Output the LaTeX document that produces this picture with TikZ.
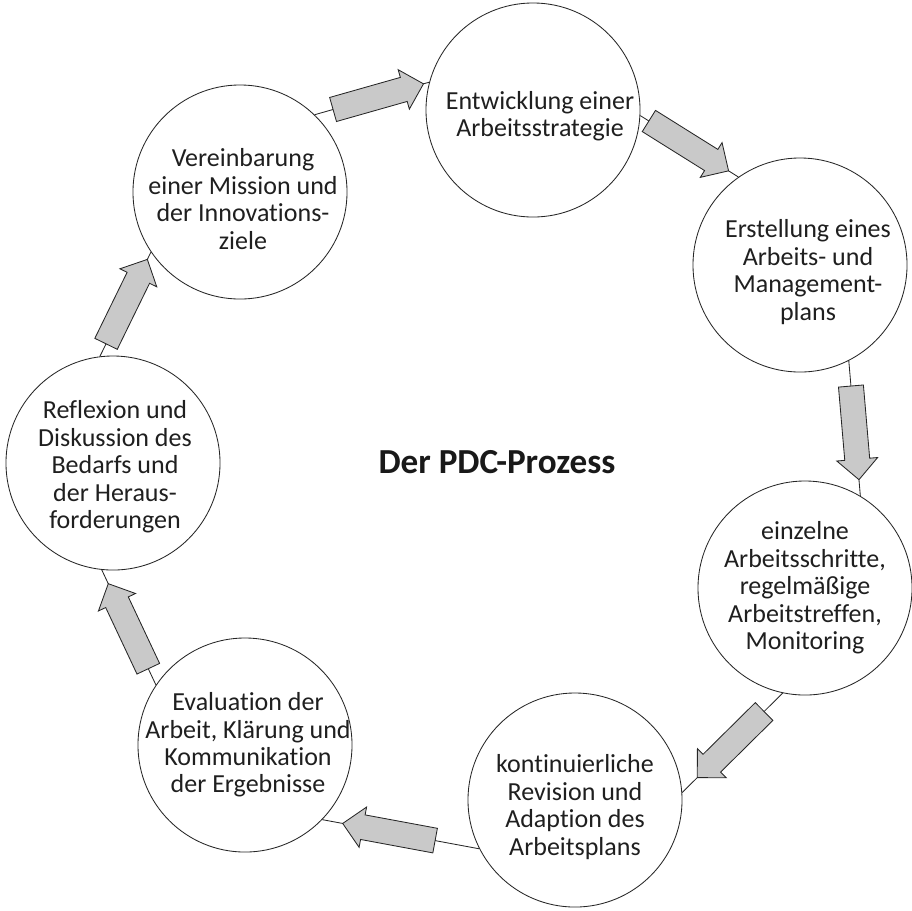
\documentclass[tikz,border=0pt]{standalone}
\usepackage{fontspec}
\setmainfont{Carlito}[Ligatures=NoCommon]
\begin{document}
\begin{tikzpicture}[x=0.025cm, y=-0.025cm,
  stage/.style={circle, draw=black!85, line width=0.6pt, fill=white,
    minimum size=5.35cm, inner sep=0pt},
  stagetext/.style={align=center, font=\fontsize{18.5}{19.5}\selectfont,
    text=black!88, inner sep=0pt},
  link/.style={draw=black!85, line width=0.6pt},
  flowpaint/.style={draw=black!85, line width=0.6pt, fill=black!21, line join=miter},
  flowarrow/.pic={
    % block arrow pointing along +x, tip at the origin
    \path[flowpaint] (0,0) -- (-20.5,20.5) -- (-20.5,12.5) -- (-94,12.5)
      -- (-94,-12.5) -- (-20.5,-12.5) -- (-20.5,-20.5) -- cycle;
  },
  onlink/.style={sloped, allow upside down, pos=#1},
]
\useasboundingbox (0,0) rectangle (912,910);

% the seven stages of the cycle
\node[stage] (c1) at (533,110) {};
\node[stage] (c2) at (240,192) {};
\node[stage] (c3) at (800,265) {};
\node[stage] (c4) at (805,588) {};
\node[stage] (c5) at (575,800) {};
\node[stage] (c6) at (245,745) {};
\node[stage] (c7) at (113,463) {};

% stage labels
\node[stagetext] (t1) at (540,116) {Entwicklung einer\\Arbeitsstrategie};
\node[stagetext] (t2) at (243,199) {Vereinbarung\\einer Mission und\\der Innovations-\\ziele};
\node[stagetext] (t3) at (808,272) {Erstellung eines\\Arbeits- und\\Management-\\plans};
\node[stagetext] (t4) at (805,588) {einzelne\\Arbeitsschritte,\\regelmäßige\\Arbeitstreffen,\\Monitoring};
\node[stagetext] (t5) at (575,807) {kontinuierliche\\Revision und\\Adaption des\\Arbeitsplans};
\node[stagetext] (t6) at (248,745) {Evaluation der\\Arbeit, Klärung und\\Kommunikation\\der Ergebnisse};
\node[stagetext] (t7) at (115,467) {Reflexion und\\Diskussion des\\Bedarfs und\\der Heraus-\\forderungen};

% title in the middle
\node[font=\fontsize{25}{29}\selectfont\bfseries, text=black!90] (title) at (497,462) {Der PDC-Prozess};

% connectors with block arrows
\draw[link] (c2.46)  -- pic[onlink=0.95] {flowarrow} (c1.165);
\draw[link] (c1.-3)  -- pic[onlink=0.90] {flowarrow} (c3.125);
\draw[link] (c3.-63) -- pic[onlink=0.88] {flowarrow} (c4.59);
\draw[link] (c4.258) -- pic[onlink=0.85] {flowarrow} (c5.4);
\draw[link] (c5.207) -- pic[onlink=0.87] {flowarrow} (c6.316);
\draw[link] (c6.146) -- pic[onlink=0.88] {flowarrow} (c7.264);
\draw[link] (c7.97)  -- pic[onlink=0.93] {flowarrow} (c2.214);
\end{tikzpicture}
\end{document}
